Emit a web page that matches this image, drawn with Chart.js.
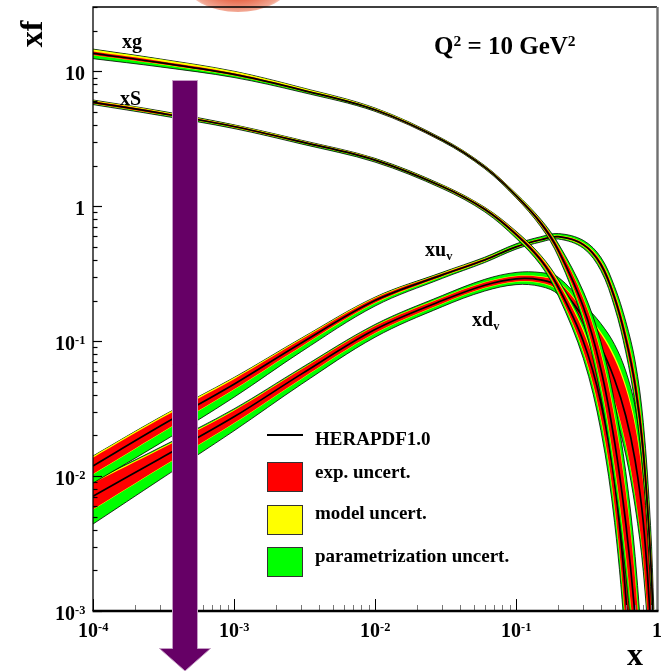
<!DOCTYPE html>
<html><head><meta charset="utf-8">
<script src="https://cdn.jsdelivr.net/npm/chart.js@4.4.1/dist/chart.umd.min.js"></script>
<style>
html,body{margin:0;padding:0;background:#fff;}
#wrap{position:relative;width:665px;height:671px;overflow:hidden;font-family:"Liberation Serif","Times New Roman",serif;font-weight:bold;color:#000;}
canvas{position:absolute;left:0;top:0;}
.t{position:absolute;white-space:nowrap;line-height:1;}
.sup{font-size:0.62em;position:relative;top:-0.52em;}
.sub{font-size:0.62em;position:relative;top:0.3em;}
.box{position:absolute;border:1px solid #333;box-sizing:border-box;}
#blob{position:absolute;left:186px;top:-46px;width:104px;height:58px;border-radius:50%;
 background:radial-gradient(ellipse at 50% 40%, #e0502e 0%, #e8684a 45%, #f2a894 70%, rgba(255,255,255,0) 80%);}
</style></head><body>
<div id="wrap"><div id="blob"></div><canvas id="c" width="665" height="671"></canvas></div>
<script>
// ---- data (x, and xf at Q^2 = 10 GeV^2) ----
const xValues = [1e-4, 3e-4, 1e-3, 3e-3, 0.01, 0.03, 0.06, 0.1, 0.15, 0.2, 0.3, 0.4, 0.5, 0.6, 0.7, 0.8, 0.9, 0.95];

// central values and relative band half-widths (exp, extra model, extra parametrisation)
const xgCentral  = [13.6, 11.6, 9.5, 7.3, 5.2, 3.1, 1.95, 1.2, 0.75, 0.47, 0.18, 0.062, 0.018, 0.0045, 0.0009, 0.00012, 0.00001, 0.000001];
const xgExp      = [.03,.025,.02,.015,.012,.012,.015,.02,.035,.06,.15,.3,.5,.7,.9,1.0,1.0,1.0];
const xgModUp    = [.04,.035,.03,.02,.012,.008,.008,.01,.015,.02,.03,.05,.08,.1,.12,.12,.12,.12];
const xgModDn    = [.005,.005,.005,.005,.005,.005,.005,.008,.01,.015,.03,.05,.08,.1,.12,.12,.12,.12];
const xgParUp    = [.005,.005,.005,.005,.005,.005,.005,.005,.015,.04,.12,.25,.4,.6,.8,.9,.9,.9];
const xgParDn    = [.06,.045,.03,.02,.012,.008,.008,.01,.02,.04,.12,.25,.4,.6,.8,.9,.9,.9];

const xSCentral  = [5.9, 4.9, 3.9, 3.0, 2.2, 1.4, 0.95, 0.62, 0.40, 0.25, 0.10, 0.035, 0.009, 0.0013, 0.0001, 0.000005, 0.0000002, 0.00000003];
const xSExp      = [.02,.02,.015,.015,.015,.015,.02,.03,.045,.08,.18,.3,.5,.7,.8,.8,.8,.8];
const xSModUp    = [.015,.015,.01,.01,.01,.01,.01,.015,.02,.03,.05,.07,.1,.12,.12,.12,.12,.12];
const xSModDn    = [.005,.005,.005,.005,.005,.005,.005,.01,.01,.02,.04,.06,.08,.1,.1,.1,.1,.1];
const xSParUp    = [.005,.005,.005,.005,.005,.005,.005,.01,.015,.03,.1,.2,.35,.5,.6,.6,.6,.6];
const xSParDn    = [.015,.015,.015,.015,.015,.015,.02,.03,.04,.06,.12,.25,.4,.6,.7,.7,.7,.7];

const xuvCentral = [0.0119, 0.0235, 0.048, 0.097, 0.20, 0.31, 0.40, 0.50, 0.565, 0.595, 0.52, 0.37, 0.21, 0.105, 0.047, 0.015, 0.0025, 0.0006];
const xuvExp     = [.15,.13,.09,.06,.04,.025,.02,.015,.015,.015,.025,.05,.08,.12,.18,.25,.3,.3];
const xuvModUp   = [.03,.03,.025,.02,.015,.01,.008,.008,.008,.01,.01,.02,.03,.04,.05,.06,.07,.07];
const xuvModDn   = [.01,.01,.01,.01,.008,.006,.005,.005,.005,.006,.008,.01,.015,.02,.03,.04,.05,.05];
const xuvParUp   = [.005,.005,.005,.005,.005,.01,.02,.03,.03,.03,.04,.06,.1,.18,.28,.35,.35,.35];
const xuvParDn   = [.18,.2,.15,.09,.05,.03,.02,.02,.02,.02,.03,.05,.08,.12,.18,.25,.3,.3];

const xdvCentral = [0.0071, 0.0135, 0.0275, 0.057, 0.122, 0.20, 0.26, 0.29, 0.285, 0.255, 0.15, 0.09, 0.052, 0.028, 0.013, 0.0045, 0.0008, 0.0002];
const xdvExp     = [.25,.17,.11,.08,.06,.05,.045,.045,.05,.07,.12,.25,.42,.6,.8,.9,1.0,1.0];
const xdvModUp   = [.03,.02,.015,.012,.01,.01,.01,.01,.012,.015,.03,.05,.08,.1,.12,.12,.12,.12];
const xdvModDn   = [.01,.01,.01,.01,.01,.01,.01,.01,.01,.015,.02,.03,.04,.05,.05,.05,.05,.05];
const xdvParUp   = [.02,.02,.02,.02,.02,.03,.05,.06,.07,.08,.12,.2,.32,.45,.6,.7,.7,.7];
const xdvParDn   = [.35,.25,.15,.1,.07,.05,.05,.05,.06,.07,.1,.18,.25,.3,.35,.35,.35,.35];

const xMajorTicks = [1e-4, 1e-3, 1e-2, 1e-1, 1];
const xTickBase   = ["10", "10", "10", "10", "1"];
const xTickExp    = ["-4", "-3", "-2", "-1", ""];
const yMajorTicks = [1e-3, 1e-2, 1e-1, 1, 10];
const yTickBase   = ["10", "10", "10", "1", "10"];
const yTickExp    = ["-3", "-2", "-1", "", ""];
const minorMultipliers = [2, 3, 4, 5, 6, 7, 8, 9];

const GREEN = '#00ff00', YELLOW = '#ffff00', RED = '#ff0000';
const NONE = 'rgba(0,0,0,0)';

// ---- build datasets (draw order: first listed = drawn first) ----
const pdfs = [
  {c: xdvCentral, e: xdvExp, mu: xdvModUp, md: xdvModDn, pu: xdvParUp, pd: xdvParDn},
  {c: xuvCentral, e: xuvExp, mu: xuvModUp, md: xuvModDn, pu: xuvParUp, pd: xuvParDn},
  {c: xSCentral,  e: xSExp,  mu: xSModUp,  md: xSModDn,  pu: xSParUp,  pd: xSParDn},
  {c: xgCentral,  e: xgExp,  mu: xgModUp,  md: xgModDn,  pu: xgParUp,  pd: xgParDn}
];
function pts(arr){ return xValues.map((x,i)=>({x:x, y:arr[i]})); }
const list = [];
pdfs.forEach(p=>{
  const totHi = p.c.map((v,i)=>v*(1+p.e[i]+p.mu[i]+p.pu[i]));
  const totLo = p.c.map((v,i)=>v/(1+p.e[i]+p.md[i]+p.pd[i]));
  const modHi = p.c.map((v,i)=>v*(1+p.e[i]+p.mu[i]));
  const modLo = p.c.map((v,i)=>v/(1+p.e[i]+p.md[i]));
  const expHi = p.c.map((v,i)=>v*(1+p.e[i]));
  const expLo = p.c.map((v,i)=>v/(1+p.e[i]));
  list.push({data:pts(totHi), fill:'+1', backgroundColor:GREEN, borderColor:'#000', borderWidth:0.8});
  list.push({data:pts(totLo), fill:false, borderColor:'#000', borderWidth:0.8});
  list.push({data:pts(modHi), fill:'+1', backgroundColor:YELLOW, borderColor:NONE, borderWidth:1});
  list.push({data:pts(modLo), fill:false, borderColor:NONE, borderWidth:1});
  list.push({data:pts(expHi), fill:'+1', backgroundColor:RED, borderColor:NONE, borderWidth:1});
  list.push({data:pts(expLo), fill:false, borderColor:NONE, borderWidth:1});
  list.push({data:pts(p.c), fill:false, borderColor:'#000', borderWidth:1.7});
});
list.forEach((d,i)=>{ d.order = list.length - i; d.pointRadius = 0; d.tension = 0.35; });

// ---- frame, ticks, arrow ----
const framePlugin = {
  id:'frame',
  afterDatasetsDraw(chart){
    const {ctx, chartArea:a, scales} = chart;
    const xs = scales.x, ys = scales.y;
    ctx.save();
    xMajorTicks.forEach((v,k)=>{
      const px = Math.round(xs.getPixelForValue(v))+0.5;
      ctx.strokeStyle='#000'; ctx.lineWidth=1;
      ctx.beginPath(); ctx.moveTo(px,a.bottom); ctx.lineTo(px,a.bottom-12); ctx.stroke();
      if (k < xMajorTicks.length-1) minorMultipliers.forEach(m=>{
        const qx = Math.round(xs.getPixelForValue(v*m))+0.5;
        ctx.strokeStyle='#777';
        ctx.beginPath(); ctx.moveTo(qx,a.bottom); ctx.lineTo(qx,a.bottom-6); ctx.stroke();
      });
    });
    yMajorTicks.forEach(v=>{
      const py = Math.round(ys.getPixelForValue(v))+0.5;
      ctx.strokeStyle='#000'; ctx.lineWidth=1.2;
      ctx.beginPath(); ctx.moveTo(a.left,py); ctx.lineTo(a.left+9,py); ctx.stroke();
      minorMultipliers.forEach(m=>{
        const val = v*m; if (val > ys.max) return;
        const qy = Math.round(ys.getPixelForValue(val))+0.5;
        ctx.beginPath(); ctx.moveTo(a.left,qy); ctx.lineTo(a.left+4.5,qy); ctx.stroke();
      });
    });
    ctx.strokeStyle='#000'; ctx.lineWidth=1.3;
    ctx.beginPath(); ctx.moveTo(a.left, a.bottom); ctx.lineTo(a.left, a.top); ctx.lineTo(a.right, a.top); ctx.stroke();
    ctx.strokeStyle='#707070'; ctx.lineWidth=2.4;
    ctx.beginPath(); ctx.moveTo(a.right+0.5, a.top); ctx.lineTo(a.right+0.5, a.bottom); ctx.stroke();
    ctx.strokeStyle='#000'; ctx.lineWidth=2.6;
    ctx.beginPath(); ctx.moveTo(a.left-0.5, a.bottom); ctx.lineTo(a.right+1.5, a.bottom); ctx.stroke();
    ctx.restore();
  },
  afterDraw(chart){
    const ctx = chart.ctx;
    ctx.save();
    ctx.fillStyle='#660066'; ctx.strokeStyle='#c49ac4'; ctx.lineWidth=1;
    ctx.beginPath();
    ctx.moveTo(172.5,80.5); ctx.lineTo(197.5,80.5); ctx.lineTo(197.5,648.5); ctx.lineTo(210.5,648.5);
    ctx.lineTo(185,671); ctx.lineTo(159.5,648.5); ctx.lineTo(172.5,648.5); ctx.closePath();
    ctx.fill(); ctx.stroke();
    ctx.restore();
  }
};

const chart = new Chart(document.getElementById('c'), {
  type:'line',
  data:{datasets:list},
  options:{
    responsive:false, animation:false, devicePixelRatio:1,
    layout:{padding:{left:93, right:8, top:7, bottom:60}},
    plugins:{legend:{display:false}, tooltip:{enabled:false}},
    elements:{point:{radius:0}},
    scales:{
      x:{type:'logarithmic', min:1e-4, max:1, display:false},
      y:{type:'logarithmic', min:1e-3, max:30, display:false}
    }
  },
  plugins:[framePlugin]
});

// ---- text (real HTML text) ----
const wrap = document.getElementById('wrap');
function addText(html, left, top, size, extra){
  const d = document.createElement('div');
  d.className='t'; d.innerHTML=html; d.style.fontSize=size+'px';
  d.style.left=left+'px'; d.style.top=top+'px';
  if (extra) Object.assign(d.style, extra);
  wrap.appendChild(d); return d;
}
const xs = chart.scales.x, ys = chart.scales.y;
xMajorTicks.forEach((v,i)=>{
  const html = xTickBase[i] + (xTickExp[i] ? '<span class="sup">'+xTickExp[i]+'</span>' : '');
  const d = addText(html, 0, 620, 20);
  const px = xs.getPixelForValue(v);
  d.style.left = (px - d.offsetWidth/2) + 'px';
});
yMajorTicks.forEach((v,i)=>{
  const html = yTickBase[i] + (yTickExp[i] ? '<span class="sup">'+yTickExp[i]+'</span>' : '');
  const d = addText(html, 0, 0, 20);
  const py = ys.getPixelForValue(v);
  d.style.left = (chart.chartArea.left - 8 - d.offsetWidth) + 'px';
  d.style.top = (py - 8) + 'px';
});
addText('xf', 18, 18, 32, {transform:'rotate(-90deg)', transformOrigin:'50% 50%'});
addText('x', 627, 638, 32);
addText('Q<span class="sup">2</span> = 10 GeV<span class="sup">2</span>', 434, 33, 25);
addText('xg', 122, 31, 20);
addText('xS', 120, 88, 20);
addText('xu<span class="sub">v</span>', 425, 239, 20);
addText('xd<span class="sub">v</span>', 472, 309, 20);

const lineSample = document.createElement('div');
Object.assign(lineSample.style,{position:'absolute',left:'267px',top:'434px',width:'36px',height:'2px',background:'#000'});
wrap.appendChild(lineSample);
[[RED,462],[YELLOW,505],[GREEN,547]].forEach(([c,t])=>{
  const b=document.createElement('div'); b.className='box';
  Object.assign(b.style,{left:'267px',top:t+'px',width:'36px',height:'30px',background:c});
  wrap.appendChild(b);
});
addText('HERAPDF1.0', 315, 429, 19);
addText('exp. uncert.', 315, 462, 19);
addText('model uncert.', 315, 503, 19);
addText('parametrization uncert.', 315, 546, 19);
</script>
</body></html>
